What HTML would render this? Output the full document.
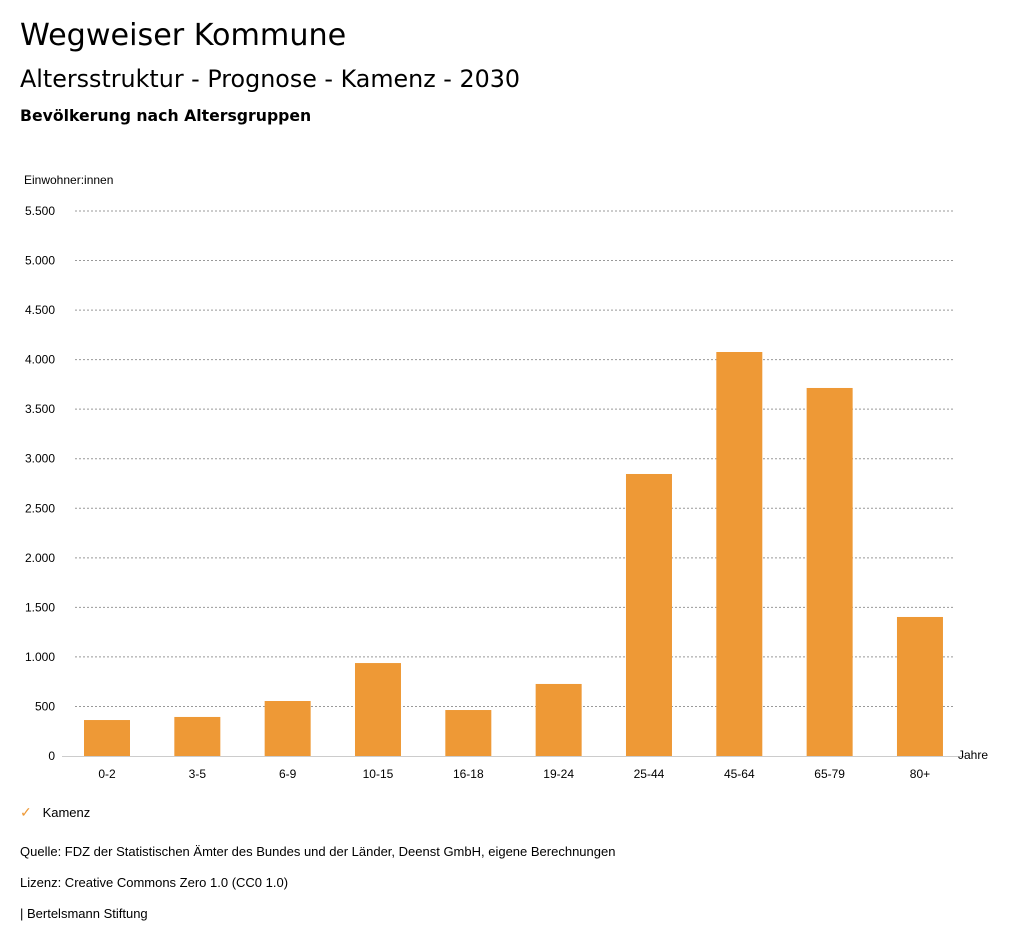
<!DOCTYPE html>
<html><head><meta charset="utf-8"><style>
body{margin:0;width:1024px;height:946px;background:#fff;font-family:"Liberation Sans",sans-serif;color:#000;position:relative;overflow:hidden}
.t{position:absolute;white-space:nowrap}
.d{font-family:"DejaVu Sans",sans-serif}
</style></head><body>
<div class="t d" style="left:20px;top:18px;font-size:30.2px">Wegweiser Kommune</div>
<div class="t d" style="left:20px;top:65px;font-size:23.8px">Altersstruktur - Prognose - Kamenz - 2030</div>
<div class="t d" style="left:20px;top:106px;font-size:15.7px;font-weight:bold">Bevölkerung nach Altersgruppen</div>
<svg id="chart" width="1024" height="946" style="position:absolute;left:0;top:0;font-family:'Liberation Sans',sans-serif"></svg>
<div class="t" style="left:20px;top:804px;font-size:13px"><span style="color:#ee9936;font-size:14px">✓</span>&nbsp;&nbsp;&nbsp;Kamenz</div>
<div class="t" style="left:20px;top:844px;font-size:13px">Quelle: FDZ der Statistischen Ämter des Bundes und der Länder, Deenst GmbH, eigene Berechnungen</div>
<div class="t" style="left:20px;top:875px;font-size:13px">Lizenz: Creative Commons Zero 1.0 (CC0 1.0)</div>
<div class="t" style="left:20px;top:906px;font-size:13px">| Bertelsmann Stiftung</div>
<script>
const categories=["0-2","3-5","6-9","10-15","16-18","19-24","25-44","45-64","65-79","80+"];
const values=[363,394,555,938,464,727,2846,4077,3714,1403];
const yTicks=[0,500,1000,1500,2000,2500,3000,3500,4000,4500,5000,5500];
const yTickLabels=["0","500","1.000","1.500","2.000","2.500","3.000","3.500","4.000","4.500","5.000","5.500"];
const svg=document.getElementById('chart');const NS="http://www.w3.org/2000/svg";
const y=v=>756-v*(545/5500);const x=i=>107+i*90.33;
function mk(t,a){const e=document.createElementNS(NS,t);for(const k in a)e.setAttribute(k,a[k]);svg.appendChild(e);return e;}
let e=mk('text',{x:24,y:184,'font-size':12});e.textContent="Einwohner:innen";


yTicks.forEach((v,i)=>{
 if(v>0){const l=mk('line',{x1:75,x2:953,y1:y(v),y2:y(v),stroke:'#999','stroke-dasharray':'2,2','stroke-width':1});
 
 }
 const t=mk('text',{x:55,y:y(v)+4,'font-size':12,'text-anchor':'end'});t.textContent=yTickLabels[i];
 
 
});
const base=mk('line',{x1:62,x2:965,y1:756.5,y2:756.5,stroke:'#ccc'});


categories.forEach((c,i)=>{
 const r=mk('rect',{x:x(i)-23,y:y(values[i]),width:46,height:756-y(values[i]),fill:'#ee9936'});
 
 
 const t=mk('text',{x:x(i),y:778,'font-size':12,'text-anchor':'middle'});t.textContent=c;
 
 
});
e=mk('text',{x:958,y:759,'font-size':12});e.textContent="Jahre";


</script>
</body></html>
